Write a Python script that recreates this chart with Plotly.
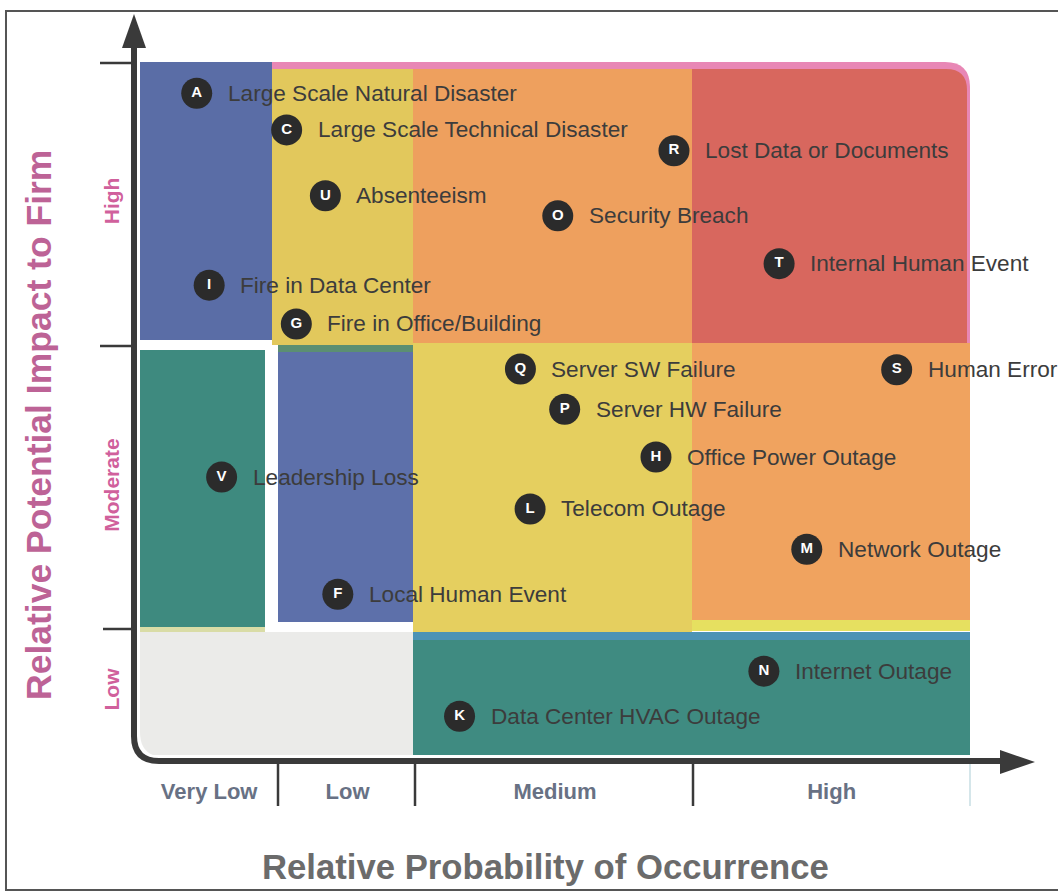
import plotly.graph_objects as go

# ---------------- data ----------------
letters = ["A", "C", "R", "U", "O", "T", "I", "G", "Q", "S", "P", "H", "V", "L", "M", "F", "N", "K"]
events = [
    "Large Scale Natural Disaster", "Large Scale Technical Disaster", "Lost Data or Documents",
    "Absenteeism", "Security Breach", "Internal Human Event", "Fire in Data Center",
    "Fire in Office/Building", "Server SW Failure", "Human Error", "Server HW Failure",
    "Office Power Outage", "Leadership Loss", "Telecom Outage", "Network Outage",
    "Local Human Event", "Internet Outage", "Data Center HVAC Outage",
]
probability = [0.41, 1.06, 3.86, 1.34, 3.02, 4.62, 0.50, 1.13, 2.75, 5.47, 3.07, 3.73, 0.59, 2.82, 4.82, 1.43, 4.51, 2.31]
impact = [9.55, 9.02, 8.72, 8.07, 7.78, 7.09, 6.78, 6.22, 5.57, 5.56, 4.99, 4.30, 4.01, 3.55, 2.97, 2.32, 1.21, 0.56]

prob_levels = ["Very Low", "Low", "Medium", "High"]
prob_centers = [0.5, 1.5, 3.0, 5.0]
impact_levels = ["Low", "Moderate", "High"]
impact_centers = [0.9, 3.85, 7.95]

# ---------------- geometry helpers (pixel -> axis / paper) ----------------
W, H = 1058, 893
L0, R0, T0, B0 = 140, 970, 62, 755


def dx(p):
    return (p - L0) / (R0 - L0) * 6.0


def dy(p):
    return (B0 - p) / (B0 - T0) * 10.0


def px(p):
    return (p - L0) / (R0 - L0)


def py(p):
    return (B0 - p) / (B0 - T0)


shapes = []


def rect(x0, x1, y0, y1, color):
    shapes.append(dict(type="rect", xref="x", yref="y", x0=dx(x0), x1=dx(x1), y0=dy(y1), y1=dy(y0),
                       fillcolor=color, line=dict(width=0), layer="below"))


def path_data(pts, color):
    d = ""
    for cmd, coords in pts:
        d += cmd
        d += " ".join(f"{dx(a):.5f},{dy(b):.5f}" for a, b in coords) + " "
    d += "Z"
    shapes.append(dict(type="path", xref="x", yref="y", path=d, fillcolor=color,
                       line=dict(width=0), layer="below"))


def paper_path(pts, color=None, lw=0, fill=None, close=False):
    d = ""
    for cmd, coords in pts:
        d += cmd
        d += " ".join(f"{px(a):.5f},{py(b):.5f}" for a, b in coords) + " "
    if close:
        d += "Z"
    shapes.append(dict(type="path", xref="paper", yref="paper", path=d,
                       fillcolor=fill if fill else "rgba(0,0,0,0)",
                       line=dict(width=lw, color=color if color else "rgba(0,0,0,0)"), layer="above"))


# ---- zones ----
path_data([("M", [(272, 345)]), ("L", [(272, 62)]), ("L", [(945, 62)]), ("Q", [(970, 62), (970, 87)]),
           ("L", [(970, 345)])], "#e887b5")
rect(140, 272, 62, 340, "#5a6da6")
rect(272, 413, 69, 345, "#e2c85c")
rect(413, 692, 69, 343, "#eea05e")
path_data([("M", [(692, 343)]), ("L", [(692, 69)]), ("L", [(946, 69)]), ("Q", [(967, 69), (967, 90)]),
           ("L", [(967, 343)])], "#d8675e")
rect(140, 265, 350, 627, "#3e8a7f")
rect(140, 265, 627, 632, "#d9dca6")
rect(278, 413, 345, 352, "#5b8f72")
rect(278, 413, 352, 622, "#5d70aa")
rect(413, 692, 343, 632, "#e5cf5f")
rect(692, 970, 343, 620, "#f0a35f")
rect(692, 970, 620, 631, "#e6e060")
path_data([("M", [(140, 632)]), ("L", [(413, 632)]), ("L", [(413, 757)]), ("L", [(165, 757)]),
           ("Q", [(140, 757), (140, 732)])], "#ebebe9")
rect(413, 970, 632, 640, "#4d93b5")
rect(413, 970, 640, 757, "#3f8b81")

# ---- frame ----
AX = "#3a3a3a"
paper_path([("M", [(1060, 11)]), ("L", [(6, 11)]), ("L", [(6, 890)]), ("L", [(1060, 890)])], color="#555555", lw=2)

# ---- axes with arrows ----
paper_path([("M", [(134, 46)]), ("L", [(134, 736)]), ("Q", [(134, 761), (159, 761)]), ("L", [(1002, 761)])],
           color=AX, lw=6)
paper_path([("M", [(134, 14)]), ("L", [(122, 48)]), ("L", [(146, 48)])], fill=AX, close=True)
paper_path([("M", [(1035, 762)]), ("L", [(1000, 750)]), ("L", [(1000, 774)])], fill=AX, close=True)

# ---- tick marks ----
for yy, x0 in [(63, 100), (346, 100), (629, 103)]:
    paper_path([("M", [(x0, yy)]), ("L", [(134, yy)])], color=AX, lw=2.5)
for xx in [278, 415, 693]:
    paper_path([("M", [(xx, 764)]), ("L", [(xx, 806)])], color=AX, lw=2.5)
paper_path([("M", [(970, 764)]), ("L", [(970, 806)])], color="#d5e6ea", lw=2)

# ---------------- traces ----------------
fig = go.Figure()
fig.add_trace(go.Scatter(
    x=probability, y=impact, mode="markers+text", text=letters,
    textposition="middle center",
    textfont=dict(family="Liberation Sans, Arial, sans-serif", size=15, color="white", weight="bold"),
    marker=dict(size=31, color="#2b2b2b", line=dict(width=0)),
    cliponaxis=False, hoverinfo="skip", showlegend=False,
))

annotations = []
for xv, yv, name in zip(probability, impact, events):
    annotations.append(dict(x=xv, y=yv, xref="x", yref="y", text=name, showarrow=False,
                            xanchor="left", yanchor="middle", xshift=29, yshift=0,
                            font=dict(family="Liberation Sans, Arial, sans-serif", size=22.6, color="#3c3c3c")))

annotations.append(dict(x=px(39), y=py(425), xref="paper", yref="paper", text="Relative Potential Impact to Firm",
                        showarrow=False, textangle=-90, xanchor="center", yanchor="middle",
                        font=dict(family="Liberation Sans, Arial, sans-serif", size=35.5, color="#bd6396",
                                  weight="bold")))
annotations.append(dict(x=px(545), y=py(867), xref="paper", yref="paper", text="Relative Probability of Occurrence",
                        showarrow=False, xanchor="center", yanchor="middle",
                        font=dict(family="Liberation Sans, Arial, sans-serif", size=34.7, color="#6b6b6b",
                                  weight="bold")))

fig.update_layout(
    width=W, height=H,
    margin=dict(l=L0, r=W - R0, t=T0, b=H - B0, pad=0),
    paper_bgcolor="white", plot_bgcolor="white",
    shapes=shapes, annotations=annotations,
    xaxis=dict(range=[0, 6], showgrid=False, zeroline=False, showline=False, ticks="",
               tickvals=prob_centers, ticktext=prob_levels, ticklabelstandoff=21,
               tickfont=dict(family="Liberation Sans, Arial, sans-serif", size=22, color="#687184", weight="bold"),
               fixedrange=True),
    yaxis=dict(range=[0, 10], showgrid=False, zeroline=False, showline=False, ticks="",
               tickvals=impact_centers, ticktext=impact_levels, tickangle=-90, ticklabelstandoff=16,
               tickfont=dict(family="Liberation Sans, Arial, sans-serif", size=21, color="#d0609c", weight="bold"),
               fixedrange=True),
    showlegend=False,
)

fig.write_html("out.html", config={"displayModeBar": False},
               post_script="document.body.style.margin='0';document.body.style.overflow='hidden';")
